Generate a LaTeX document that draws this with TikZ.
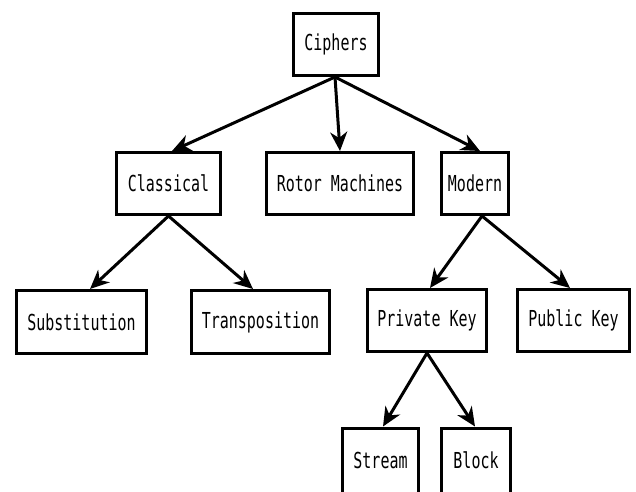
\documentclass[tikz,border=0pt]{standalone}
\usepackage{fontspec}
\setmonofont{DejaVu Sans Mono}[FakeStretch=0.68]
\usetikzlibrary{arrows.meta}
\begin{document}
\begin{tikzpicture}[x=1pt,y=-1pt,
  box/.style={draw, line width=3pt, rectangle, inner sep=0pt, minimum height=62pt,
    font=\ttfamily\fontsize{22}{22}\selectfont},
  arr/.style={line width=3pt, -{Stealth[length=19pt,width=17pt,inset=6pt]}}]
\useasboundingbox (0,0) rectangle (636,491);
\begin{scope}
\clip (0,0) rectangle (636,491);
\node[box, minimum width=85pt] (ciphers) at (336,44.5) {Ciphers};
\node[box, minimum width=104pt] (classical) at (168.5,183.5) {Classical};
\node[box, minimum width=147pt] (rotor) at (340,183.5) {Rotor Machines};
\node[box, minimum width=67pt] (modern) at (475,183.5) {Modern};
\node[box, minimum width=130pt, minimum height=63pt] (subst) at (81.5,322) {Substitution};
\node[box, minimum width=138pt, minimum height=63pt] (transp) at (260.5,322) {Transposition};
\node[box, minimum width=119pt] (private) at (427,320.5) {Private Key};
\node[box, minimum width=112pt] (public) at (573.5,320.5) {Public Key};
\node[box, minimum width=76pt, minimum height=65pt] (stream) at (380.5,460.5) {Stream};
\node[box, minimum width=69pt, minimum height=65pt] (block) at (476,460.5) {Block};
\end{scope}
\draw[arr] ([xshift=-1pt]ciphers.south) -- ([xshift=3.5pt]classical.north);
\draw[arr] ([xshift=-1pt]ciphers.south) -- (rotor.north);
\draw[arr] ([xshift=-1pt]ciphers.south) -- ([xshift=5pt]modern.north);
\draw[arr] (classical.south) -- ([xshift=8.5pt]subst.north);
\draw[arr] (classical.south) -- ([xshift=-7.5pt]transp.north);
\draw[arr] ([xshift=7pt]modern.south) -- ([xshift=3pt]private.north);
\draw[arr] ([xshift=7pt]modern.south) -- ([xshift=-3.5pt]public.north);
\draw[arr] (private.south) -- ([xshift=2.5pt]stream.north);
\draw[arr] (private.south) -- ([xshift=-1pt]block.north);
\end{tikzpicture}
\end{document}
